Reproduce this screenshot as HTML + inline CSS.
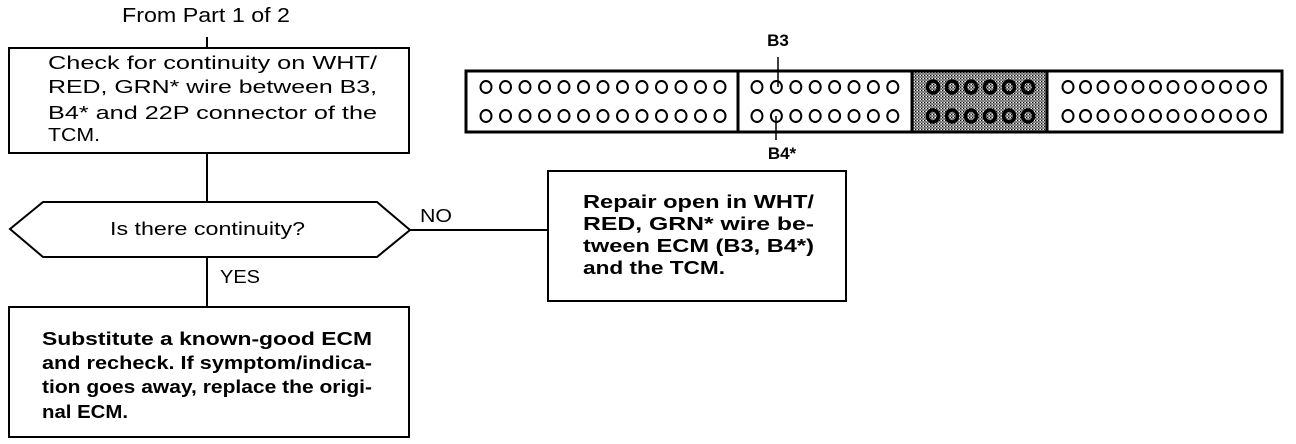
<!DOCTYPE html>
<html><head><meta charset="utf-8"><style>
html,body{margin:0;padding:0;background:#fff;}
svg{display:block;}
text{font-family:"Liberation Sans",Arial,sans-serif;fill:#000;}
.n{font-size:18.5px;}
.b{font-size:18px;font-weight:bold;}
</style></head><body>
<svg width="1296" height="444" viewBox="0 0 1296 444" xmlns="http://www.w3.org/2000/svg">
<defs>
<pattern id="dots" width="3" height="3" patternUnits="userSpaceOnUse">
<rect width="3" height="3" fill="#999"/><rect width="1" height="1" fill="#000"/><rect x="1.5" y="1.5" width="1" height="1" fill="#222"/><rect x="2" y="0" width="1" height="1" fill="#fff"/>
</pattern>
</defs>
<g stroke="#000" stroke-width="2" fill="none">
<line x1="207" y1="37" x2="207" y2="48"/>
<rect x="9" y="48" width="400" height="105"/>
<line x1="207" y1="153" x2="207" y2="202"/>
<polygon points="43,202 377,202 410,230 377,257 43,257 10,229"/>
<line x1="207" y1="257" x2="207" y2="307"/>
<rect x="9" y="307" width="400" height="130"/>
<line x1="410" y1="230" x2="548" y2="230"/>
<rect x="548" y="171" width="298" height="130"/>
</g>
<text x="122" y="22" font-size="20" textLength="168" lengthAdjust="spacingAndGlyphs">From Part 1 of 2</text>
<text class="n" x="48" y="69" textLength="329" lengthAdjust="spacingAndGlyphs">Check for continuity on WHT/</text>
<text class="n" x="48" y="93" textLength="329" lengthAdjust="spacingAndGlyphs">RED, GRN* wire between B3,</text>
<text class="n" x="48" y="119" textLength="329" lengthAdjust="spacingAndGlyphs">B4* and 22P connector of the</text>
<text class="n" x="48" y="141" textLength="52" lengthAdjust="spacingAndGlyphs">TCM.</text>
<text class="n" x="110" y="235" textLength="195" lengthAdjust="spacingAndGlyphs">Is there continuity?</text>
<text class="n" x="420" y="222" textLength="32" lengthAdjust="spacingAndGlyphs">NO</text>
<text class="n" x="220" y="283" textLength="40" lengthAdjust="spacingAndGlyphs">YES</text>
<text class="b" x="42" y="345" textLength="330" lengthAdjust="spacingAndGlyphs">Substitute a known-good ECM</text>
<text class="b" x="42" y="369" textLength="330" lengthAdjust="spacingAndGlyphs">and recheck. If symptom/indica-</text>
<text class="b" x="42" y="393" textLength="330" lengthAdjust="spacingAndGlyphs">tion goes away, replace the origi-</text>
<text class="b" x="42" y="418" textLength="86" lengthAdjust="spacingAndGlyphs">nal ECM.</text>
<text class="b" x="583" y="208" textLength="231" lengthAdjust="spacingAndGlyphs">Repair open in WHT/</text>
<text class="b" x="583" y="230" textLength="231" lengthAdjust="spacingAndGlyphs">RED, GRN* wire be-</text>
<text class="b" x="583" y="252" textLength="231" lengthAdjust="spacingAndGlyphs">tween ECM (B3, B4*)</text>
<text class="b" x="583" y="274" textLength="142" lengthAdjust="spacingAndGlyphs">and the TCM.</text>
<rect x="912" y="71" width="135" height="61" fill="url(#dots)"/>
<g stroke="#000" fill="none">
<rect x="466" y="71" width="816" height="61" stroke-width="3"/>
<line x1="738" y1="71" x2="738" y2="132" stroke-width="3"/>
<line x1="912" y1="71" x2="912" y2="132" stroke-width="3"/>
<line x1="1047" y1="71" x2="1047" y2="132" stroke-width="3"/>
<line x1="778" y1="57" x2="778" y2="87" stroke-width="1.5"/>
<line x1="776" y1="116" x2="776" y2="140" stroke-width="1.5"/>
</g>
<text x="778" y="46" font-size="17" font-weight="bold" text-anchor="middle">B3</text>
<text x="782" y="159" font-size="17" font-weight="bold" text-anchor="middle">B4*</text>
<g stroke="#000" stroke-width="2" fill="none">
<ellipse cx="486" cy="87" rx="5.5" ry="6"/><ellipse cx="505.5" cy="87" rx="5.5" ry="6"/><ellipse cx="525" cy="87" rx="5.5" ry="6"/><ellipse cx="544.5" cy="87" rx="5.5" ry="6"/><ellipse cx="564" cy="87" rx="5.5" ry="6"/><ellipse cx="583.5" cy="87" rx="5.5" ry="6"/><ellipse cx="603" cy="87" rx="5.5" ry="6"/><ellipse cx="622.5" cy="87" rx="5.5" ry="6"/><ellipse cx="642" cy="87" rx="5.5" ry="6"/><ellipse cx="661.5" cy="87" rx="5.5" ry="6"/><ellipse cx="681" cy="87" rx="5.5" ry="6"/><ellipse cx="700.5" cy="87" rx="5.5" ry="6"/><ellipse cx="720" cy="87" rx="5.5" ry="6"/>
<ellipse cx="486" cy="116" rx="5.5" ry="6"/><ellipse cx="505.5" cy="116" rx="5.5" ry="6"/><ellipse cx="525" cy="116" rx="5.5" ry="6"/><ellipse cx="544.5" cy="116" rx="5.5" ry="6"/><ellipse cx="564" cy="116" rx="5.5" ry="6"/><ellipse cx="583.5" cy="116" rx="5.5" ry="6"/><ellipse cx="603" cy="116" rx="5.5" ry="6"/><ellipse cx="622.5" cy="116" rx="5.5" ry="6"/><ellipse cx="642" cy="116" rx="5.5" ry="6"/><ellipse cx="661.5" cy="116" rx="5.5" ry="6"/><ellipse cx="681" cy="116" rx="5.5" ry="6"/><ellipse cx="700.5" cy="116" rx="5.5" ry="6"/><ellipse cx="720" cy="116" rx="5.5" ry="6"/>
<ellipse cx="757" cy="87" rx="5.5" ry="6"/><ellipse cx="776.4" cy="87" rx="5.5" ry="6"/><ellipse cx="795.8" cy="87" rx="5.5" ry="6"/><ellipse cx="815.2" cy="87" rx="5.5" ry="6"/><ellipse cx="834.6" cy="87" rx="5.5" ry="6"/><ellipse cx="854" cy="87" rx="5.5" ry="6"/><ellipse cx="873.4" cy="87" rx="5.5" ry="6"/><ellipse cx="892.8" cy="87" rx="5.5" ry="6"/>
<ellipse cx="757" cy="116" rx="5.5" ry="6"/><ellipse cx="776.4" cy="116" rx="5.5" ry="6"/><ellipse cx="795.8" cy="116" rx="5.5" ry="6"/><ellipse cx="815.2" cy="116" rx="5.5" ry="6"/><ellipse cx="834.6" cy="116" rx="5.5" ry="6"/><ellipse cx="854" cy="116" rx="5.5" ry="6"/><ellipse cx="873.4" cy="116" rx="5.5" ry="6"/><ellipse cx="892.8" cy="116" rx="5.5" ry="6"/>
<g stroke-width="3.5">
<ellipse cx="933" cy="87" rx="5.5" ry="6"/><ellipse cx="952" cy="87" rx="5.5" ry="6"/><ellipse cx="971" cy="87" rx="5.5" ry="6"/><ellipse cx="990" cy="87" rx="5.5" ry="6"/><ellipse cx="1009" cy="87" rx="5.5" ry="6"/><ellipse cx="1028" cy="87" rx="5.5" ry="6"/>
<ellipse cx="933" cy="116" rx="5.5" ry="6"/><ellipse cx="952" cy="116" rx="5.5" ry="6"/><ellipse cx="971" cy="116" rx="5.5" ry="6"/><ellipse cx="990" cy="116" rx="5.5" ry="6"/><ellipse cx="1009" cy="116" rx="5.5" ry="6"/><ellipse cx="1028" cy="116" rx="5.5" ry="6"/>
</g>
<ellipse cx="1068" cy="87" rx="5.5" ry="6"/><ellipse cx="1085.5" cy="87" rx="5.5" ry="6"/><ellipse cx="1103" cy="87" rx="5.5" ry="6"/><ellipse cx="1120.5" cy="87" rx="5.5" ry="6"/><ellipse cx="1138" cy="87" rx="5.5" ry="6"/><ellipse cx="1155.5" cy="87" rx="5.5" ry="6"/><ellipse cx="1173" cy="87" rx="5.5" ry="6"/><ellipse cx="1190.5" cy="87" rx="5.5" ry="6"/><ellipse cx="1208" cy="87" rx="5.5" ry="6"/><ellipse cx="1225.5" cy="87" rx="5.5" ry="6"/><ellipse cx="1243" cy="87" rx="5.5" ry="6"/><ellipse cx="1260.5" cy="87" rx="5.5" ry="6"/>
<ellipse cx="1068" cy="116" rx="5.5" ry="6"/><ellipse cx="1085.5" cy="116" rx="5.5" ry="6"/><ellipse cx="1103" cy="116" rx="5.5" ry="6"/><ellipse cx="1120.5" cy="116" rx="5.5" ry="6"/><ellipse cx="1138" cy="116" rx="5.5" ry="6"/><ellipse cx="1155.5" cy="116" rx="5.5" ry="6"/><ellipse cx="1173" cy="116" rx="5.5" ry="6"/><ellipse cx="1190.5" cy="116" rx="5.5" ry="6"/><ellipse cx="1208" cy="116" rx="5.5" ry="6"/><ellipse cx="1225.5" cy="116" rx="5.5" ry="6"/><ellipse cx="1243" cy="116" rx="5.5" ry="6"/><ellipse cx="1260.5" cy="116" rx="5.5" ry="6"/>
</g>
</svg>
</body></html>
